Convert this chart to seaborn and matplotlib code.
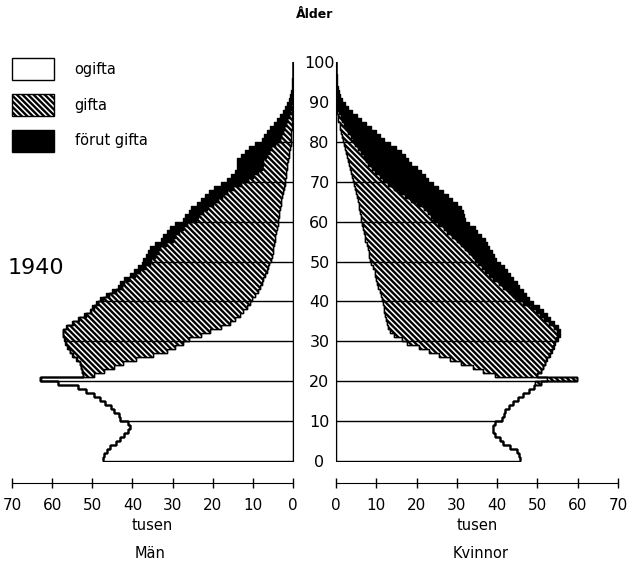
import numpy as np
import pandas as pd
import matplotlib
matplotlib.use('Agg')
import matplotlib.pyplot as plt
from matplotlib.patches import Patch
from matplotlib.colors import to_rgb
import seaborn as sns

# Sverige 1940, tusental per ettårsklass
alder = list(range(101))

man_ogifta = [47.3, 47.0, 46.3, 45.6, 44.2, 43.0, 42.0, 41.0, 40.6, 41.2,
              43.1, 43.4, 44.5, 45.4, 46.8, 48.0, 49.6, 51.5, 53.5, 58.5,
              62.7, 49.5, 47.0, 44.5, 42.4, 39.0, 35.0, 31.5, 29.5, 27.5,
              26.0, 23.0, 20.7, 18.0, 15.7, 14.5, 13.3, 12.5, 11.5, 10.8,
              10.2, 9.5, 8.8, 8.2, 7.8, 7.4, 7.0, 6.6, 6.3, 6.0,
              5.5, 5.3, 5.1, 4.9, 4.7, 4.5, 4.4, 4.2, 4.0, 3.8,
              3.7, 3.5, 3.4, 3.2, 3.0, 2.9, 2.7, 2.5, 2.3, 2.1,
              2.0, 1.8, 1.7, 1.5, 1.4, 1.2, 1.1, 0.9, 0.8, 0.6,
              0.5, 0.45, 0.4, 0.35, 0.3, 0.25, 0.2, 0.17, 0.14, 0.1,
              0.08, 0.06, 0.05, 0.03, 0.02, 0.015, 0.01, 0.01, 0.005, 0.0, 0.0]
man_gifta = [0.0] * 20 + [
              0.3, 2.8, 5.5, 8.3, 10.6, 14.9, 19.9, 24.0, 26.6, 29.1,
              30.8, 34.2, 36.5, 38.2, 39.0, 38.7, 38.3, 37.7, 38.0, 37.7,
              37.2, 36.3, 35.4, 34.4, 34.2, 33.5, 32.3, 31.5, 30.6, 29.7,
              29.8, 29.0, 28.5, 28.2, 27.0, 25.5, 25.1, 24.2, 23.5, 22.5,
              20.5, 20.1, 19.0, 18.3, 17.0, 15.9, 14.9, 13.9, 12.7, 10.8,
              9.1, 8.1, 7.0, 6.3, 6.1, 6.2, 5.7, 5.2, 4.7, 3.9,
              2.7, 2.45, 2.1, 1.85, 1.5, 1.15, 0.9, 0.63, 0.46, 0.3,
              0.17, 0.14, 0.08, 0.05, 0.02, 0.02, 0.01, 0.01, 0.0, 0.0, 0.0]
man_forut = [0.0] * 25 + [
              0.05, 0.05, 0.1, 0.1, 0.1,
              0.15, 0.2, 0.2, 0.25, 0.3, 0.3, 0.35, 0.4, 0.45, 0.5,
              0.6, 0.7, 0.8, 0.9, 1.0, 1.1, 1.3, 1.4, 1.6, 1.8,
              2.0, 2.2, 2.4, 2.6, 2.8, 3.0, 3.0, 3.1, 3.2, 3.2,
              3.3, 3.4, 3.6, 3.8, 4.0, 4.2, 4.4, 4.6, 4.8, 5.1,
              5.4, 5.6, 5.8, 6.2, 6.5, 6.6, 6.2, 5.8, 5.5, 5.0,
              4.6, 4.3, 4.0, 3.5, 3.0, 2.6, 2.2, 1.8, 1.4, 1.1,
              0.75, 0.6, 0.42, 0.27, 0.16, 0.12, 0.08, 0.05, 0.03, 0.02, 0.01]

kv_ogifta = [45.7, 45.5, 45.0, 43.2, 41.5, 40.7, 39.5, 39.0, 39.0, 39.5,
             41.1, 41.7, 42.0, 43.0, 44.0, 45.2, 46.5, 48.0, 49.2, 49.4,
             52.3, 39.5, 36.5, 34.0, 31.0, 28.3, 25.5, 23.0, 20.5, 17.5,
             16.5, 14.5, 13.4, 13.0, 12.7, 12.5, 12.2, 12.0, 11.8, 11.6,
             11.4, 11.1, 10.8, 10.5, 10.2, 10.0, 9.8, 9.6, 9.3, 8.8,
             8.5, 8.3, 8.1, 7.9, 7.6, 7.3, 7.1, 6.9, 6.7, 6.5,
             6.3, 6.1, 6.0, 5.8, 5.6, 5.5, 5.3, 5.0, 4.8, 4.5,
             4.2, 4.0, 3.7, 3.5, 3.2, 3.0, 2.8, 2.5, 2.2, 1.9,
             1.7, 1.5, 1.3, 1.1, 0.9, 0.6, 0.45, 0.3, 0.2, 0.15,
             0.1, 0.08, 0.06, 0.04, 0.03, 0.02, 0.015, 0.01, 0.01, 0.005, 0.0]
kv_gifta = [0.0] * 19 + [
             1.6, 7.4, 10.5, 14.5, 17.4, 20.8, 23.9, 27.4, 30.3, 33.3, 36.6,
             38.1, 40.5, 41.5, 41.1, 40.2, 39.2, 38.5, 37.6, 36.5, 34.9,
             33.6, 32.8, 32.1, 31.0, 30.3, 29.0, 28.2, 27.5, 26.9, 26.5,
             26.1, 25.7, 25.0, 24.2, 23.4, 22.7, 21.7, 20.7, 20.1, 18.8,
             17.9, 17.5, 16.8, 16.1, 14.6, 13.0, 11.9, 10.7, 9.5, 8.4,
             7.5, 6.8, 6.1, 5.5, 4.8, 4.5, 4.1, 3.7, 3.3, 2.8,
             2.5, 2.1, 1.7, 1.5, 1.2, 1.0, 0.75, 0.5, 0.3, 0.25,
             0.15, 0.07, 0.04, 0.02, 0.01, 0.01, 0.005, 0.0, 0.0, 0.0, 0.0]
kv_forut = [0.0] * 25 + [
             0.1, 0.1, 0.2, 0.2, 0.3,
             0.4, 0.5, 0.7, 0.9, 1.1, 1.3, 1.6, 1.9, 2.2, 2.5,
             3.0, 3.3, 3.6, 4.0, 4.5, 5.0, 5.2, 5.4, 5.5, 5.5,
             5.2, 5.3, 5.5, 6.0, 6.5, 7.0, 7.2, 7.4, 7.6, 7.7,
             7.8, 8.2, 8.7, 9.2, 9.8, 10.3, 10.6, 10.8, 11.0, 11.1,
             11.1, 11.2, 11.2, 11.0, 10.5, 10.4, 10.3, 10.0, 9.5, 8.8,
             7.8, 7.4, 7.0, 6.2, 5.4, 4.7, 4.0, 3.2, 2.5, 1.8,
             1.25, 0.95, 0.7, 0.44, 0.31, 0.19, 0.12, 0.08, 0.04, 0.025, 0.02]

# seaborn lägger sista nivån närmast axeln när den staplar
status_ordning = ['förut gifta', 'gifta', 'ogifta']
farger = {'ogifta': '#ffffff', 'gifta': '#fefefe', 'förut gifta': '#000000'}
skraffering = '\\' * 6


def lang_tabell(ogifta, gifta, forut):
    return pd.DataFrame({
        'alder': alder * 3,
        'tusen': ogifta + gifta + forut,
        'status': ['ogifta'] * len(alder) + ['gifta'] * len(alder) + ['förut gifta'] * len(alder),
    })


sns.set_style('white')
plt.rcParams['font.family'] = ['DejaVu Sans']
plt.rcParams['hatch.linewidth'] = 1.7
plt.rcParams['axes.edgecolor'] = 'black'
plt.rcParams['axes.labelcolor'] = 'black'
plt.rcParams['xtick.color'] = 'black'
plt.rcParams['ytick.color'] = 'black'
plt.rcParams['text.color'] = 'black'

fig = plt.figure(figsize=(6.28, 5.66), dpi=100)
ax_m = fig.add_axes([12 / 628, 105 / 566, 281 / 628, 399 / 566])
ax_k = fig.add_axes([336 / 628, 105 / 566, 282 / 628, 399 / 566])

for ax, (og, gi, fo) in [(ax_m, (man_ogifta, man_gifta, man_forut)),
                         (ax_k, (kv_ogifta, kv_gifta, kv_forut))]:
    sns.histplot(data=lang_tabell(og, gi, fo), y='alder', weights='tusen',
                 hue='status', hue_order=status_ordning, multiple='stack',
                 element='step', binwidth=1, binrange=(0, 101), palette=farger,
                 alpha=1, edgecolor='black', linewidth=1.0, legend=False, ax=ax)
    for coll in ax.collections:
        if np.allclose(coll.get_facecolor()[0][:3], to_rgb(farger['gifta'])):
            coll.set_hatch(skraffering)

    # tioårslinjerna går ut till pyramidens kant
    summa = [og[a] + gi[a] + fo[a] for a in alder]
    tior = list(range(10, 100, 10))
    ax.hlines(tior, 0, [summa[a] for a in tior], color='black', lw=1.0, zorder=5)

    ax.set_ylim(0, 100)
    ax.set_xticks(range(0, 71, 10))
    ax.spines['top'].set_visible(False)
    ax.spines['bottom'].set_position(('outward', 16))
    ax.spines['bottom'].set_bounds(0, 70)
    ax.tick_params(axis='x', bottom=True, direction='inout', length=7, width=1,
                   pad=7, labelsize=11)
    ax.set_xlabel('tusen', fontsize=10.5, labelpad=4)
    ax.set_ylabel('')

ax_m.set_xlim(70, 0)
ax_k.set_xlim(0, 70)
ax_m.spines['left'].set_visible(False)
ax_k.spines['right'].set_visible(False)

ax_m.set_yticks(range(0, 101, 10))
ax_m.tick_params(axis='y', left=False, right=False, labelleft=False,
                 labelright=True, pad=15.5, labelsize=11.5)
for t in ax_m.yaxis.get_major_ticks():
    t.label2.set_horizontalalignment('center')
ax_k.tick_params(axis='y', left=False, labelleft=False)

fig.text(315 / 628, 1 - 15 / 566, 'Ålder', ha='center', va='center',
         fontsize=9, fontweight='bold')
fig.text(8 / 628, 1 - 268 / 566, '1940', ha='left', va='center', fontsize=16)
fig.text(150 / 628, 1 - 553 / 566, 'Män', ha='center', va='center', fontsize=10.5)
fig.text(481 / 628, 1 - 553 / 566, 'Kvinnor', ha='center', va='center', fontsize=10.5)

handles = [Patch(facecolor='white', edgecolor='black', label='ogifta'),
           Patch(facecolor='white', edgecolor='black', hatch=skraffering, label='gifta'),
           Patch(facecolor='black', edgecolor='black', label='förut gifta')]
fig.legend(handles=handles, loc='upper left', bbox_to_anchor=(12 / 628, 1 - 58 / 566),
           frameon=False, borderpad=0, borderaxespad=0, handlelength=2.9,
           handleheight=1.95, handletextpad=1.4, labelspacing=0.95, fontsize=10.5)

fig.savefig('out.png', dpi=100)
